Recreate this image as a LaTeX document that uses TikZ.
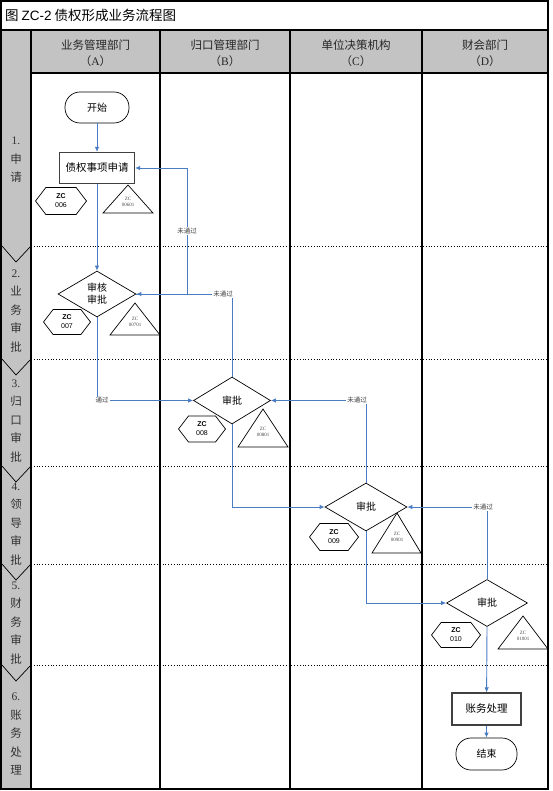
\documentclass[tikz,border=0pt]{standalone}
\usepackage{fontspec}
\setmainfont{Liberation Serif}
\newfontfamily\cjk{Noto Sans CJK SC}
\newfontfamily\lsans{Liberation Sans}
\usetikzlibrary{shapes.geometric,shapes.symbols,arrows.meta}
\definecolor{flowblue}{HTML}{4A7CC4}
\definecolor{hdrgray}{HTML}{C3C3C3}
\tikzset{
  flow/.style={draw=flowblue, line width=0.9pt, -{Latex[length=5pt,width=4.5pt]}},
  flowline/.style={draw=flowblue, line width=0.9pt},
  lbl/.style={fill=white, inner sep=1pt, font=\cjk\fontsize{6.5}{7}\selectfont, text=black!75},
  termbox/.style={draw, line width=0.7pt, rounded corners=15pt, minimum width=64pt, minimum height=31pt, inner sep=0pt, font=\cjk\fontsize{10}{12}\selectfont},
  procbox/.style={draw, line width=1.1pt, draw=black!75, minimum width=75pt, minimum height=31pt, inner sep=0pt, font=\cjk\fontsize{10.5}{12}\selectfont},
  decide/.style={draw, diamond, line width=0.7pt, inner sep=0pt, font=\cjk\fontsize{10}{12}\selectfont, align=center},
  hexa/.style={draw, signal, signal to=west and east, signal pointer angle=105, line width=0.7pt, inner sep=0pt, minimum width=49pt, minimum height=26pt, align=center, font=\lsans\fontsize{7}{9}\selectfont},
  tritext/.style={align=center, inner sep=0pt, font=\rmfamily\fontsize{5}{6.5}\selectfont, text=black!70},
  stage/.style={align=center, inner sep=0pt, font=\cjk\fontsize{11.5}{18.5}\selectfont, text=black!80},
  hdr/.style={align=center, inner sep=0pt, font=\cjk\fontsize{11.5}{16.5}\selectfont, text=black!85},
  sep/.style={black, dotted, line width=0.8pt},
  colline/.style={black, line width=1.3pt},
  tri/.style={draw, line width=0.7pt}
}
\begin{document}
\begin{tikzpicture}[x=1pt,y=-1pt]
\useasboundingbox (0,0) rectangle (553,791);
\fill[white] (0,0) rectangle (553,791);
% header and stage column backgrounds
\fill[hdrgray] (1,30) rectangle (548,73);
\fill[hdrgray] (1,30) rectangle (31,789);
% dotted row separators and chevrons
\foreach \yy in {246,359,466,564,665}{
  \draw[sep] (31,\yy) -- (548,\yy);
  \draw[line width=0.7pt] (2,\yy) -- (16,\yy+16) -- (31,\yy);
}
% column lines
\draw[colline] (31,30) -- (31,789);
\draw[colline] (160,30) -- (160,789);
\draw[colline] (290,30) -- (290,789);
\draw[colline] (422,30) -- (422,789);
\draw[colline] (31,73) -- (548,73);
\draw[colline] (1,30) -- (548,30);
\draw[line width=1.5pt] (1,1) rectangle (548,789);

% title
\node[anchor=west, inner sep=0pt, font=\cjk\fontsize{13.5}{15}\selectfont] (title) at (5,15) {图 {\lsans ZC-2} 债权形成业务流程图};

% headers
\node[hdr] (hA) at (95.5,53) {业务管理部门\\（{\rmfamily A}）};
\node[hdr] (hB) at (225,53) {归口管理部门\\（{\rmfamily B}）};
\node[hdr] (hC) at (356,53) {单位决策机构\\（{\rmfamily C}）};
\node[hdr] (hD) at (485,53) {财会部门\\（{\rmfamily D}）};

% stage labels
\node[stage] (s1) at (16,160) {{\rmfamily 1.}\\申\\请};
\node[stage] (s2) at (16,311) {{\rmfamily 2.}\\业\\务\\审\\批};
\node[stage] (s3) at (16,421) {{\rmfamily 3.}\\归\\口\\审\\批};
\node[stage] (s4) at (16,524) {{\rmfamily 4.}\\领\\导\\审\\批};
\node[stage] (s5) at (16,623) {{\rmfamily 5.}\\财\\务\\审\\批};
\node[stage] (s6) at (16,734) {{\rmfamily 6.}\\账\\务\\处\\理};

% flow nodes
\node[termbox] (start) at (97,107.5) {开始};
\node[procbox] (apply) at (97,168) {债权事项申请};
\node[decide, minimum width=78pt, minimum height=46pt] (revA) at (97,294) {审核\\审批};
\node[decide, minimum width=77pt, minimum height=47pt] (revB) at (232,400.5) {审批};
\node[decide, minimum width=82pt, minimum height=48pt] (revC) at (366,507) {审批};
\node[decide, minimum width=81pt, minimum height=47pt] (revD) at (487,603) {审批};
\node[procbox, minimum width=69pt, minimum height=32pt] (acct) at (486.5,709) {账务处理};
\node[termbox, minimum width=61pt, minimum height=32pt] (finish) at (486.5,754) {结束};

% hexagons
\node[hexa, minimum width=51pt, minimum height=27pt] (h006) at (61,201) {\textbf{ZC}\\006};
\node[hexa, minimum width=47pt, minimum height=25pt] (h007) at (67,322) {\textbf{ZC}\\007};
\node[hexa, minimum width=47pt, minimum height=26pt] (h008) at (202,429) {\textbf{ZC}\\008};
\node[hexa, minimum width=49pt, minimum height=27pt] (h009) at (334,537) {\textbf{ZC}\\009};
\node[hexa, minimum width=49pt, minimum height=25pt] (h010) at (456,635) {\textbf{ZC}\\010};

% triangles
\draw[tri] (128,185) -- (153,213) -- (103,213) -- cycle;
\node[tritext] (t601) at (128,202) {ZC\\00601};
\draw[tri] (135,303) -- (160,335) -- (110,335) -- cycle;
\node[tritext] (t701) at (135,322) {ZC\\00701};
\draw[tri] (263,409) -- (288,447) -- (238,447) -- cycle;
\node[tritext] (t801) at (263,432) {ZC\\00801};
\draw[tri] (397,513) -- (421,553) -- (372,553) -- cycle;
\node[tritext] (t901) at (397,537) {ZC\\00901};
\draw[tri] (523,616) -- (548,649) -- (498,649) -- cycle;
\node[tritext] (t1001) at (523,636) {ZC\\01001};

% main flow
\draw[flow] (start) -- (apply);
\draw[flow] (apply) -- (revA);
\draw[flow] (revA.south) |- node[lbl, pos=0.5, xshift=5pt] {通过} (revB.west);
\draw[flow] (revB.south) |- (revC.west);
\draw[flow] (revC.south) |- (revD.west);
\draw[flow] (revD.south) -- (acct);
\draw[flow] (acct) -- (finish);

% rejections
\coordinate (rjA) at (187,294);
\draw[flowline] (revA.east) -- (rjA);
\draw[flow] (rjA) |- node[lbl, pos=0.25] {未通过} (apply.east);
\draw[flow] (revB.north) |- node[lbl, pos=0.5, xshift=-9pt] {未通过} (revA.east);
\draw[flow] (revC.north) |- node[lbl, pos=0.5, xshift=-9pt] {未通过} (revB.east);
\draw[flow] (revD.north) |- node[lbl, pos=0.5, xshift=-4pt] {未通过} (revC.east);
\end{tikzpicture}
\end{document}
